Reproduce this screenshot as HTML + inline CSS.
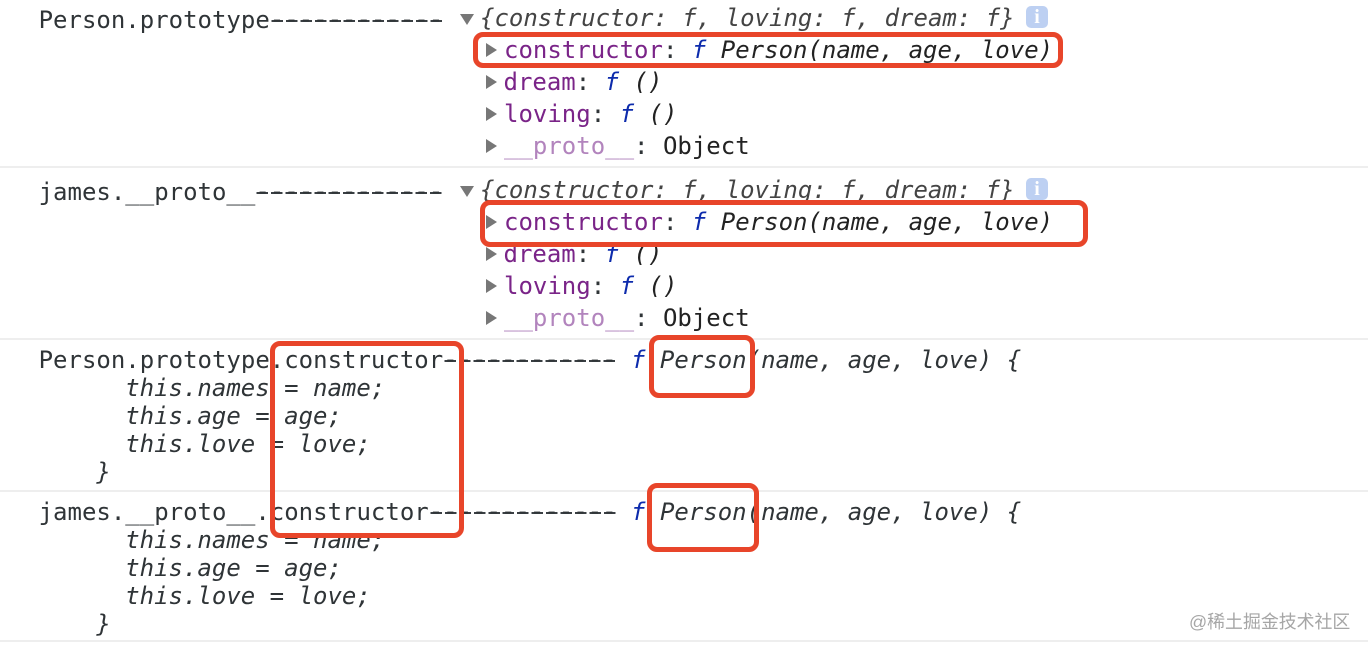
<!DOCTYPE html>
<html>
<head>
<meta charset="utf-8">
<style>
html,body{margin:0;padding:0;background:#fff}
#p{position:relative;width:1368px;height:652px;overflow:hidden;background:#fff;font-family:"DejaVu Sans Mono","Liberation Mono",monospace;font-size:24px;color:#2f3437}
.t{position:absolute;white-space:pre;line-height:32px;height:32px;filter:blur(.3px)}
.i{font-style:italic}
.k{color:#7a2488}
.l{color:#b284bd}
.f{color:#0d2bac;font-style:italic}
.n{color:#222;font-style:italic}
.ds{display:inline-block;position:relative;top:-1px;height:32px;line-height:32px;background:repeating-linear-gradient(90deg,transparent 0 1.5px,#3a3f43 1.5px 13px,transparent 13px 14.449px) 0 16.5px/100% 2px no-repeat}
.h{position:absolute;left:0;width:1368px;height:2px;background:#eeeeee}
.b{position:absolute;box-sizing:border-box;border:5.5px solid #e8452a;border-radius:10px}
.r,.d{position:absolute;width:0;height:0}
.r{border-left:11px solid #777;border-top:7px solid transparent;border-bottom:7px solid transparent}
.d{border-top:11px solid #777;border-left:7px solid transparent;border-right:7px solid transparent}
.o{position:absolute;width:22px;height:22px;border-radius:5px;background:#bdd0f2;color:#fff;font:bold 20px/22px "Liberation Serif",serif;text-align:center}
.w{position:absolute;left:1189px;top:611px;font:17.9px/22px "Liberation Sans","Noto Sans CJK SC",sans-serif;color:#a6a6a6;white-space:pre;filter:blur(.3px)}
</style>
</head>
<body>
<div id="p">
<div class="t" style="left:38.6px;top:4px">Person.prototype<span class="ds">------------</span></div>
<div class="d" style="left:460px;top:14px"></div>
<div class="t i" style="left:480px;top:2px;color:#444">{constructor: <span>f</span>, loving: f, dream: f}</div>
<div class="o" style="left:1026px;top:6px">i</div>
<div class="r" style="left:486px;top:43px"></div>
<div class="t" style="left:504px;top:34px"><span class="k">constructor</span>: <span class="f">f</span> <span class="n">Person(name, age, love)</span></div>
<div class="r" style="left:486px;top:75px"></div>
<div class="t" style="left:503.5px;top:66px"><span class="k">dream</span>: <span class="f">f</span> <span class="n">()</span></div>
<div class="r" style="left:486px;top:107px"></div>
<div class="t" style="left:504px;top:98px"><span class="k">loving</span>: <span class="f">f</span> <span class="n">()</span></div>
<div class="r" style="left:486px;top:139px"></div>
<div class="t" style="left:504px;top:130px"><span class="l">__proto__</span>: <span style="color:#222">Object</span></div>
<div class="h" style="top:166px"></div>

<div class="t" style="left:38.6px;top:176px">james.__proto__<span class="ds">-------------</span></div>
<div class="d" style="left:460px;top:186px"></div>
<div class="t i" style="left:480px;top:174px;color:#444">{constructor: f, loving: f, dream: f}</div>
<div class="o" style="left:1026px;top:178px">i</div>
<div class="r" style="left:486px;top:215px"></div>
<div class="t" style="left:504px;top:206px"><span class="k">constructor</span>: <span class="f">f</span> <span class="n">Person(name, age, love)</span></div>
<div class="r" style="left:486px;top:247px"></div>
<div class="t" style="left:503.5px;top:238px"><span class="k">dream</span>: <span class="f">f</span> <span class="n">()</span></div>
<div class="r" style="left:486px;top:279px"></div>
<div class="t" style="left:504px;top:270px"><span class="k">loving</span>: <span class="f">f</span> <span class="n">()</span></div>
<div class="r" style="left:486px;top:311px"></div>
<div class="t" style="left:504px;top:302px"><span class="l">__proto__</span>: <span style="color:#222">Object</span></div>
<div class="h" style="top:338px"></div>

<div class="t" style="left:38.6px;top:344px">Person.prototype.constructor<span class="ds">------------</span> <span class="f">f</span> <span class="i">Person(name, age, love) {</span></div>
<div class="t i" style="left:125.2px;top:372px">this.names = name;</div>
<div class="t i" style="left:125.2px;top:400px">this.age = age;</div>
<div class="t i" style="left:125.2px;top:428px">this.love = love;</div>
<div class="t i" style="left:96.4px;top:456px">}</div>
<div class="h" style="top:490px"></div>

<div class="t" style="left:38.6px;top:496px">james.__proto__.constructor<span class="ds">-------------</span> <span class="f">f</span> <span class="i">Person(name, age, love) {</span></div>
<div class="t i" style="left:125.2px;top:524px">this.names = name;</div>
<div class="t i" style="left:125.2px;top:552px">this.age = age;</div>
<div class="t i" style="left:125.2px;top:580px">this.love = love;</div>
<div class="t i" style="left:96.4px;top:608px">}</div>
<div class="h" style="top:640px"></div>

<div class="b" style="left:473px;top:32px;width:590px;height:36px"></div>
<div class="b" style="left:480px;top:200px;width:608px;height:47px"></div>
<div class="b" style="left:270px;top:341px;width:194px;height:197px"></div>
<div class="b" style="left:649px;top:335px;width:106px;height:63px"></div>
<div class="b" style="left:647px;top:483px;width:112px;height:69px"></div>
<div class="w">@稀土掘金技术社区</div>
</div>
</body>
</html>
